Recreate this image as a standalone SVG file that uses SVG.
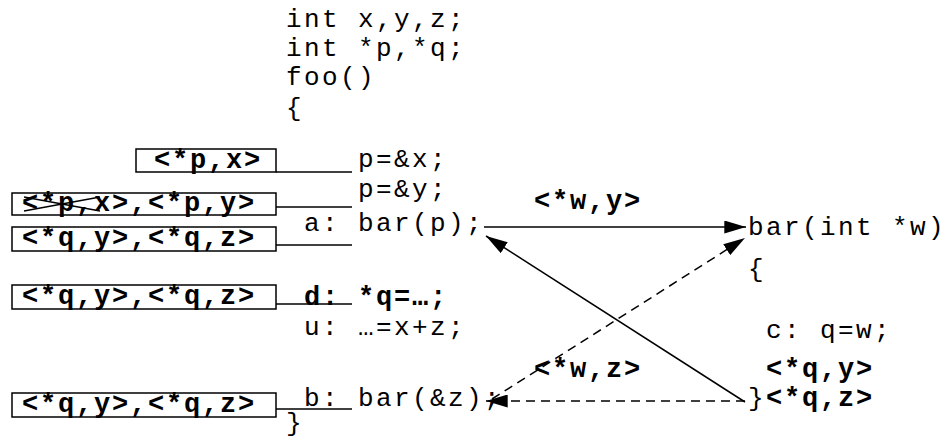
<svg xmlns="http://www.w3.org/2000/svg" width="946" height="440" viewBox="0 0 946 440">
<style>
text{font-family:"Liberation Mono","Courier New",monospace;font-size:26px;letter-spacing:2.4px;fill:#000}
.b{font-weight:bold;font-size:27px;letter-spacing:1.8px}
.box{fill:#fff;stroke:#000;stroke-width:1.5}
.ln{stroke:#000;stroke-width:1.5;fill:none}
.dash{stroke-dasharray:9,6}
</style>
<defs>
<marker id="ahb" viewBox="0 0 20 12" refX="20" refY="6" markerWidth="22" markerHeight="13" markerUnits="userSpaceOnUse" orient="auto">
<path d="M0,0 L20,6 L0,12 z" fill="#000"/>
</marker>
</defs>
<g id="code-foo">
<text x="286" y="27">int x,y,z;</text>
<text x="286" y="56">int *p,*q;</text>
<text x="286" y="85">foo()</text>
<text x="286" y="116">{</text>
<text x="358" y="167">p=&amp;x;</text>
<text x="358" y="197">p=&amp;y;</text>
<text x="304" y="231">a: bar(p);</text>
<text x="304" y="305"><tspan class="b">d:</tspan><tspan class="b" x="358">*q=…;</tspan></text>
<text x="304" y="335">u: …=x+z;</text>
<text x="304" y="406">b: bar(&amp;z);</text>
<text x="286" y="431">}</text>
</g>
<g id="code-bar">
<text x="748" y="235">bar(int *w)</text>
<text x="748" y="277">{</text>
<text x="766" y="338">c: q=w;</text>
<text x="748" y="406">}</text>
</g>
<g id="box1">
<rect class="box" x="136" y="149" width="140" height="23"/>
<text class="b" x="154" y="168">&lt;*p,x&gt;</text>
</g>
<g id="box2">
<rect class="box" x="12" y="193" width="264" height="22"/>
<text class="b" x="22" y="211">&lt;*p,x&gt;,&lt;*p,y&gt;</text>
<line class="ln" x1="24" y1="197" x2="100" y2="211"/>
<line class="ln" x1="24" y1="211" x2="100" y2="197"/>
</g>
<g id="box3">
<rect class="box" x="12" y="227" width="264" height="24"/>
<text class="b" x="22" y="246">&lt;*q,y&gt;,&lt;*q,z&gt;</text>
</g>
<g id="box4">
<rect class="box" x="12" y="285" width="264" height="24"/>
<text class="b" x="22" y="304">&lt;*q,y&gt;,&lt;*q,z&gt;</text>
</g>
<g id="box5">
<rect class="box" x="12" y="393" width="264" height="24"/>
<text class="b" x="22" y="412">&lt;*q,y&gt;,&lt;*q,z&gt;</text>
</g>
<g id="labels">
<text class="b" x="534" y="209">&lt;*w,y&gt;</text>
<text class="b" x="534" y="377">&lt;*w,z&gt;</text>
<text class="b" x="766" y="377">&lt;*q,y&gt;</text>
<text class="b" x="766" y="406">&lt;*q,z&gt;</text>
</g>
<g id="connectors">
<line class="ln" x1="276" y1="172" x2="352" y2="172"/>
<line class="ln" x1="276" y1="207" x2="352" y2="207"/>
<line class="ln" x1="276" y1="245" x2="352" y2="245"/>
<line class="ln" x1="276" y1="304" x2="352" y2="304"/>
<line class="ln" x1="276" y1="409" x2="352" y2="409"/>
<line class="ln" x1="484" y1="227" x2="746" y2="227" marker-end="url(#ahb)"/>
<line class="ln" x1="745" y1="402" x2="486" y2="236" marker-end="url(#ahb)"/>
<line class="ln dash" x1="492" y1="399" x2="745" y2="238" marker-end="url(#ahb)"/>
<line class="ln dash" x1="745" y1="401" x2="486" y2="401" marker-end="url(#ahb)"/>
</g>
</svg>
